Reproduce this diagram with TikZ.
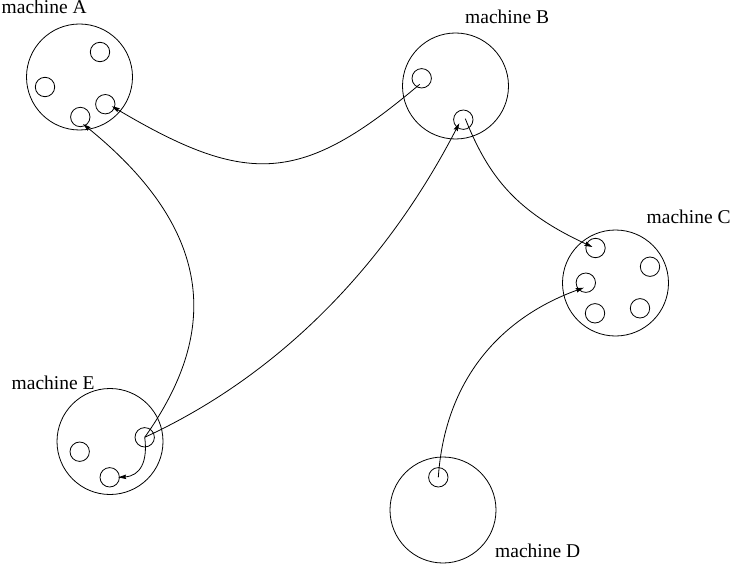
\documentclass[tikz,border=0pt]{standalone}
\usepackage{fontspec}
\setmainfont{Liberation Serif}
\usetikzlibrary{arrows.meta}

\begin{document}
\begin{tikzpicture}[x=1pt,y=-1pt,
  machine/.style={circle,draw,line width=0.8pt,minimum size=106pt,inner sep=0pt},
  proc/.style={circle,draw,line width=0.8pt,minimum size=19.4pt,inner sep=0pt},
  label/.style={anchor=base west,inner sep=0pt,font=\fontsize{19.5}{22}\selectfont},
  msg/.style={line width=0.8pt,-{Stealth[length=8pt,width=4.5pt,inset=1pt]}}]
\useasboundingbox (0,0) rectangle (730,564);

% machines
\node[machine] (mA) at (79.5,77) {};
\node[machine] (mB) at (455.5,86) {};
\node[machine] (mC) at (615.5,283) {};
\node[machine] (mD) at (443,510) {};
\node[machine] (mE) at (110,441.5) {};

% processes inside each machine
\node[proc] (a1) at (100,52) {};
\node[proc] (a2) at (45,87) {};
\node[proc] (a3) at (80.3,117) {};
\node[proc] (a4) at (105.3,104.2) {};

\node[proc] (b1) at (421.7,78.3) {};
\node[proc] (b2) at (463.3,119.7) {};

\node[proc] (c1) at (595.5,248) {};
\node[proc] (c2) at (585.8,282.7) {};
\node[proc] (c3) at (650,266.7) {};
\node[proc] (c4) at (640,308.3) {};
\node[proc] (c5) at (595,313.3) {};

\node[proc] (d1) at (438.3,477.3) {};

\node[proc] (e1) at (79.7,451.7) {};
\node[proc] (e2) at (144.7,437.3) {};
\node[proc] (e3) at (109.7,477.3) {};

% labels
\node[label] (lA) at (1.5,14) {machine A};
\node[label] (lB) at (465,24) {machine B};
\node[label] (lC) at (646.5,223.3) {machine C};
\node[label] (lD) at (495,557.3) {machine D};
\node[label] (lE) at (11.5,389) {machine E};

% messages
\draw[msg] ([shift={(-2,6)}]b1.center) .. controls (302,184) and (248,187) .. ([shift={(6.5,2)}]a4.center);
\draw[msg] (e2.center) .. controls (211,344) and (226,240) .. ([shift={(2.7,7)}]a3.center);
\draw[msg] (e2.center) .. controls (280,375) and (386,265) .. ([shift={(-4,3.5)}]b2.center);
\draw[msg] ([shift={(2,-1)}]b2.center) .. controls (489,178) and (517,212) .. ([shift={(-3,-1)}]c1.center);
\draw[msg] (d1.center) .. controls (445,380) and (500,318) .. ([shift={(-2,5)}]c2.center);
\draw[msg] (e2.center) .. controls (148,462) and (140,476) .. ([shift={(8.5,0)}]e3.center);
\end{tikzpicture}
\end{document}
